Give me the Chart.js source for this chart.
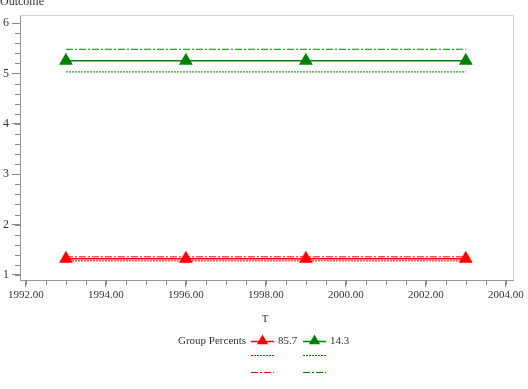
<!DOCTYPE html>
<html>
<head>
<meta charset="utf-8">
<script src="https://cdn.jsdelivr.net/npm/chart.js@4"></script>
<style>
  html, body { margin: 0; padding: 0; background: #fff; }
  #wrap { width: 528px; height: 389px; position: relative; }
</style>
</head>
<body>
<div id="wrap"><canvas id="outcomeChart" width="528" height="389"></canvas></div>
<script>
// data
const years = [1993, 1996, 1999, 2003];
const groupLabels = ["85.7", "14.3"];
const red857 = [1.32, 1.32, 1.32, 1.32];
const red857Lower = [1.28, 1.28, 1.28, 1.28];
const red857Upper = [1.36, 1.36, 1.36, 1.36];
const green143 = [5.25, 5.25, 5.25, 5.25];
const green143Lower = [5.03, 5.03, 5.03, 5.03];
const green143Upper = [5.48, 5.48, 5.48, 5.48];
const yTicks = [1, 2, 3, 4, 5, 6];
const xTicks = [1992, 1994, 1996, 1998, 2000, 2002, 2004];

const RED = "#ff0000";
const GREEN = "#008000";
const DOTTED = [2, 1];
const DASHDOT = [7, 2, 2, 2];
const FONT = "'Liberation Serif', 'DejaVu Serif', serif";

function pts(vals) {
  return years.map((x, i) => ({ x: x, y: vals[i] }));
}

function meanSet(label, vals, color) {
  return {
    label: label,
    data: pts(vals),
    borderColor: color,
    backgroundColor: color,
    borderWidth: 1.5,
    pointStyle: "triangle",
    pointRadius: 6.5,
    pointHoverRadius: 6.5,
    tension: 0,
    fill: false,
  };
}

function ciSet(vals, color, dash) {
  return {
    label: "",
    data: pts(vals),
    borderColor: color,
    borderWidth: 1,
    borderDash: dash,
    pointRadius: 0,
    tension: 0,
    fill: false,
  };
}

// minor ticks, frame, titles and legend
const extras = {
  id: "extras",
  afterDraw(chart) {
    const ctx = chart.ctx;
    const a = chart.chartArea;
    const xs = chart.scales.x;
    const ys = chart.scales.y;
    ctx.save();

    // frame
    ctx.strokeStyle = "#d0d0d0";
    ctx.lineWidth = 1;
    ctx.beginPath();
    ctx.moveTo(a.left, a.top + 0.5);
    ctx.lineTo(a.right + 0.5, a.top + 0.5);
    ctx.lineTo(a.right + 0.5, a.bottom);
    ctx.stroke();

    // minor ticks
    ctx.strokeStyle = "#888";
    ctx.beginPath();
    for (let v = 1; v <= 6.01; v += 0.2) {
      const y = Math.round(ys.getPixelForValue(v)) + 0.5;
      ctx.moveTo(a.left - 5, y);
      ctx.lineTo(a.left, y);
    }
    for (let v = 1992; v <= 2004.01; v += 0.5) {
      const x = Math.round(xs.getPixelForValue(v)) + 0.5;
      ctx.moveTo(x, a.bottom);
      ctx.lineTo(x, a.bottom + 5);
    }
    ctx.stroke();

    // titles
    ctx.fillStyle = "#333";
    ctx.font = "12px " + FONT;
    ctx.textAlign = "left";
    ctx.textBaseline = "alphabetic";
    ctx.fillText("Outcome", 0, 5);
    ctx.font = "11px " + FONT;
    ctx.textAlign = "center";
    ctx.fillText("T", 265, 322);

    // legend
    ctx.textAlign = "left";
    ctx.textBaseline = "middle";
    ctx.fillText("Group Percents", 178, 341);
    const cols = [
      { x: 251, color: RED, text: groupLabels[0], tx: 278 },
      { x: 303, color: GREEN, text: groupLabels[1], tx: 330 },
    ];
    cols.forEach((c) => {
      ctx.strokeStyle = c.color;
      ctx.fillStyle = c.color;
      ctx.lineWidth = 1.5;
      ctx.setLineDash([]);
      ctx.beginPath();
      ctx.moveTo(c.x, 341.5);
      ctx.lineTo(c.x + 23, 341.5);
      ctx.stroke();
      const cx = c.x + 11.5, r = 6.5;
      ctx.beginPath();
      ctx.moveTo(cx, 341 - r);
      ctx.lineTo(cx + r * 0.866, 341 + r / 2);
      ctx.lineTo(cx - r * 0.866, 341 + r / 2);
      ctx.closePath();
      ctx.fill();

      // dotted sample drawn as little dashes so the colour holds
      for (let dx = 0; dx < 23; dx += 3) {
        ctx.fillRect(c.x + dx, 355, 2, 1);
      }
      ctx.lineWidth = 1.2;
      ctx.setLineDash(DASHDOT);
      ctx.beginPath();
      ctx.moveTo(c.x, 372.5);
      ctx.lineTo(c.x + 23, 372.5);
      ctx.stroke();

      ctx.fillStyle = "#333";
      ctx.fillText(c.text, c.tx, 341);
    });
    ctx.restore();
  },
};

new Chart(document.getElementById("outcomeChart").getContext("2d"), {
  type: "line",
  data: {
    datasets: [
      meanSet(groupLabels[0], red857, RED),
      ciSet(red857Lower, RED, DOTTED),
      ciSet(red857Upper, RED, DASHDOT),
      meanSet(groupLabels[1], green143, GREEN),
      ciSet(green143Lower, GREEN, DOTTED),
      ciSet(green143Upper, GREEN, DASHDOT),
    ],
  },
  plugins: [extras],
  options: {
    responsive: false,
    animation: false,
    layout: { padding: { left: 0, right: 15, top: 15, bottom: 79 } },
    plugins: { legend: { display: false }, tooltip: { enabled: false } },
    scales: {
      x: {
        type: "linear",
        min: 1991.85,
        max: 2004.18,
        afterBuildTicks: (s) => { s.ticks = xTicks.map((v) => ({ value: v })); },
        afterFit: (s) => { s.height = 30; },
        grid: { drawOnChartArea: false, tickLength: 7, color: "#888" },
        border: { color: "#999" },
        ticks: {
          padding: 2,
          color: "#333",
          font: { family: FONT, size: 11 },
          maxRotation: 0,
          autoSkip: false,
          callback: (v) => v.toFixed(2),
        },
      },
      y: {
        type: "linear",
        min: 0.9,
        max: 6.16,
        afterBuildTicks: (s) => { s.ticks = yTicks.map((v) => ({ value: v })); },
        afterFit: (s) => { s.width = 20; },
        grid: { drawOnChartArea: false, tickLength: 8, color: "#888" },
        border: { color: "#999" },
        ticks: {
          padding: 3,
          color: "#333",
          font: { family: FONT, size: 12 },
          callback: (v) => String(v),
        },
      },
    },
  },
});
</script>
</body>
</html>
